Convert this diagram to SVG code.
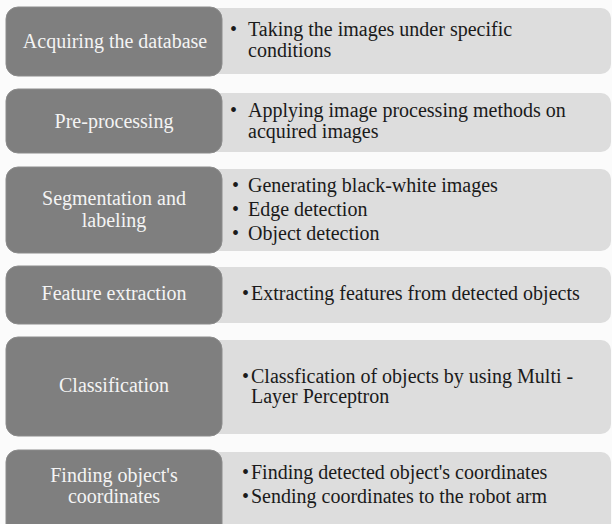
<svg xmlns="http://www.w3.org/2000/svg" width="612" height="524" viewBox="0 0 612 524">
<style>
.dark{fill:#7f7f7f;stroke:#8c8c8c;stroke-width:1}
.light{fill:#dddddd}
</style>
<rect width="612" height="524" fill="#fbfbfb"/>
<g id="row1">
<path class="light" d="M215 8 H601 A10 10 0 0 1 611 18 V64 A10 10 0 0 1 601 74 H215 Z"/>
<rect class="dark" x="6" y="7" width="216" height="69" rx="12"/>
<text font-family="Liberation Serif" font-size="20" fill="#f4f4f4" text-anchor="middle" x="115" y="48">Acquiring the database</text>
<text font-family="Liberation Serif" font-size="20" fill="#1a1a1a"><tspan x="230" y="36">•</tspan><tspan x="248" y="36">Taking the images under specific</tspan><tspan x="248" y="57">conditions</tspan></text>
</g>
<g id="row2">
<path class="light" d="M215 93 H601 A10 10 0 0 1 611 103 V142 A10 10 0 0 1 601 152 H215 Z"/>
<rect class="dark" x="6" y="89" width="216" height="64" rx="12"/>
<text font-family="Liberation Serif" font-size="20" fill="#f4f4f4" text-anchor="middle" x="114" y="128">Pre-processing</text>
<text font-family="Liberation Serif" font-size="20" fill="#1a1a1a"><tspan x="230" y="117">•</tspan><tspan x="248" y="117">Applying image processing methods on</tspan><tspan x="248" y="138">acquired images</tspan></text>
</g>
<g id="row3">
<path class="light" d="M215 169 H601 A10 10 0 0 1 611 179 V241 A10 10 0 0 1 601 251 H215 Z"/>
<rect class="dark" x="6" y="167" width="216" height="86" rx="12"/>
<text font-family="Liberation Serif" font-size="20" fill="#f4f4f4" text-anchor="middle" x="114" y="205">Segmentation and</text>
<text font-family="Liberation Serif" font-size="20" fill="#f4f4f4" text-anchor="middle" x="114" y="227">labeling</text>
<text font-family="Liberation Serif" font-size="20" fill="#1a1a1a"><tspan x="232" y="192">•</tspan><tspan x="248" y="192">Generating black-white images</tspan><tspan x="232" y="216">•</tspan><tspan x="248" y="216">Edge detection</tspan><tspan x="232" y="240">•</tspan><tspan x="248" y="240">Object detection</tspan></text>
</g>
<g id="row4">
<path class="light" d="M215 267 H601 A10 10 0 0 1 611 277 V313 A10 10 0 0 1 601 323 H215 Z"/>
<rect class="dark" x="6" y="266" width="216" height="58" rx="12"/>
<text font-family="Liberation Serif" font-size="20" fill="#f4f4f4" text-anchor="middle" x="114" y="300">Feature extraction</text>
<text font-family="Liberation Serif" font-size="20" fill="#1a1a1a"><tspan x="242" y="300">•</tspan><tspan x="251" y="300">Extracting features from detected objects</tspan></text>
</g>
<g id="row5">
<path class="light" d="M215 340 H601 A10 10 0 0 1 611 350 V424 A10 10 0 0 1 601 434 H215 Z"/>
<rect class="dark" x="6" y="337" width="216" height="99" rx="12"/>
<text font-family="Liberation Serif" font-size="20" fill="#f4f4f4" text-anchor="middle" x="114" y="392">Classification</text>
<text font-family="Liberation Serif" font-size="20" fill="#1a1a1a"><tspan x="242" y="383">•</tspan><tspan x="251" y="383">Classfication of objects by using Multi -</tspan><tspan x="251" y="403">Layer Perceptron</tspan></text>
</g>
<g id="row6">
<path class="light" d="M215 452 H601 A10 10 0 0 1 611 462 V530 H215 Z"/>
<rect class="dark" x="6" y="450" width="216" height="86" rx="12"/>
<text font-family="Liberation Serif" font-size="20" fill="#f4f4f4" text-anchor="middle" x="114" y="482">Finding object's</text>
<text font-family="Liberation Serif" font-size="20" fill="#f4f4f4" text-anchor="middle" x="114" y="503">coordinates</text>
<text font-family="Liberation Serif" font-size="20" fill="#1a1a1a"><tspan x="242" y="479">•</tspan><tspan x="251" y="479">Finding detected object's coordinates</tspan><tspan x="242" y="503">•</tspan><tspan x="251" y="503">Sending coordinates to the robot arm</tspan></text>
</g>
<g id="connectors"/>
</svg>
